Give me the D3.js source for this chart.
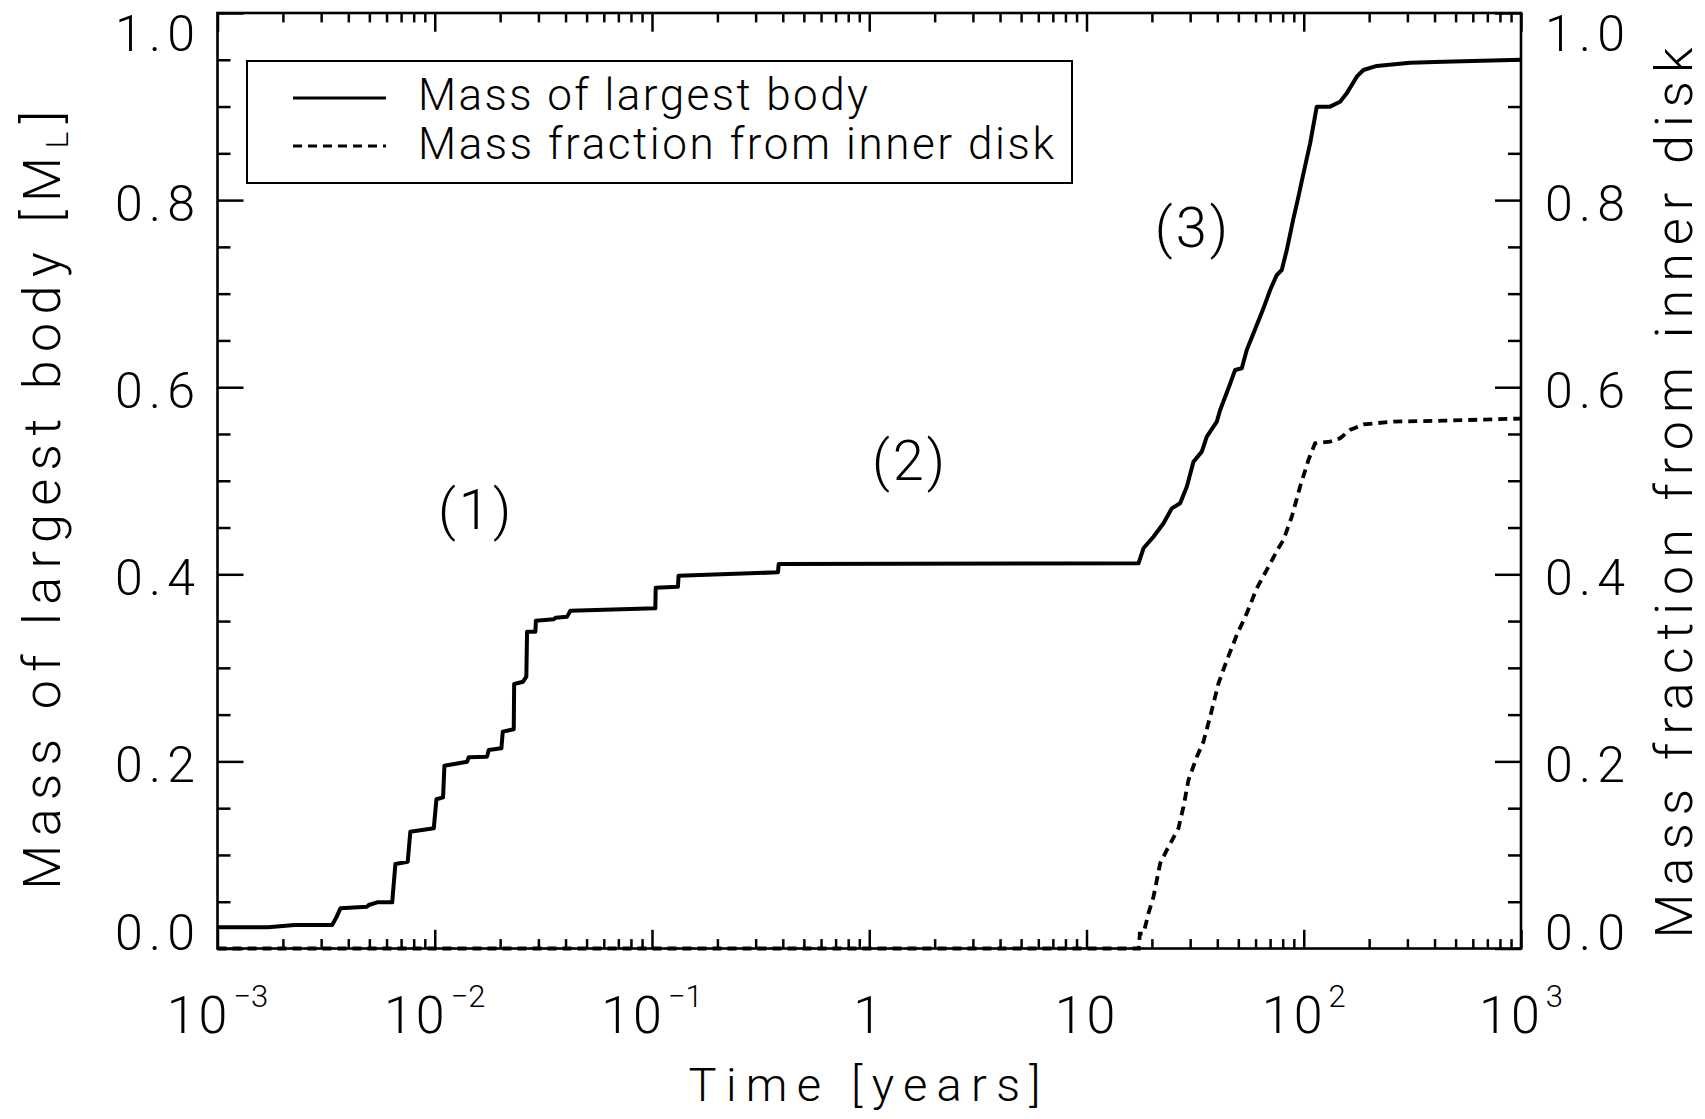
<!DOCTYPE html>
<html><head><meta charset="utf-8">
<script src="https://cdn.jsdelivr.net/npm/d3@7"></script>
<style>
html,body{margin:0;padding:0;background:#fff;}
svg{display:block;background:#fff;}
text{font-family:Roboto,"DejaVu Sans",sans-serif;font-weight:300;fill:#000;}
</style></head><body>
<svg id="chart" width="1705" height="1119"></svg>
<script>
// ---------------- data ----------------
const timeLargest = [0.001,0.00171,0.00226,0.00337,0.00352,0.00368,0.00488,0.00497,0.00543,0.00637,0.00659,0.00751,0.00772,0.00990,0.01018,0.01092,0.01108,0.01409,0.01434,0.01741,0.01772,0.02027,0.02056,0.02310,0.02320,0.02550,0.02640,0.02660,0.02906,0.02920,0.0353,0.0360,0.0406,0.0421,0.1036,0.1040,0.1317,0.1325,0.3800,0.3830,17.35,18.29,20.34,22.62,24.70,26.98,28.95,31.07,33.95,35.80,39.80,41.22,45.03,48.31,51.85,54.67,60.78,65.24,70.03,75.12,79.22,83.55,89.66,94.54,99.68,107.0,114.8,132.2,147.0,157.7,175.4,188.2,216.8,308.7,439.3,1000];
const massLargest = [0.0226,0.0228,0.0251,0.0251,0.033,0.0429,0.0447,0.0465,0.0494,0.0494,0.0903,0.0928,0.1249,0.1285,0.1595,0.1616,0.1954,0.1997,0.2044,0.2051,0.2122,0.2140,0.2318,0.2343,0.2827,0.2852,0.2906,0.3387,0.3387,0.3504,0.3519,0.3536,0.3545,0.3611,0.3636,0.3857,0.3868,0.3985,0.4021,0.4110,0.4117,0.4278,0.4402,0.4545,0.4705,0.4759,0.4937,0.5204,0.5311,0.5471,0.5632,0.5756,0.5988,0.6184,0.6202,0.6398,0.6665,0.6843,0.7039,0.7199,0.7253,0.7467,0.7805,0.8037,0.8286,0.8607,0.8999,0.8999,0.9052,0.9141,0.9319,0.9391,0.9434,0.9469,0.9480,0.9500];
const timeInner = [0.001,17.4,17.6,18.29,19.29,20.34,21.83,23.44,26.50,27.95,29.47,32.21,34.54,37.08,40.51,44.31,49.18,54.67,60.78,68.79,76.45,80.62,88.1,96.2,105.1,112.7,132.2,147.0,163.4,188.2,258.6,439.0,1000];
const fracInner = [0,0,0.016,0.016,0.0376,0.0554,0.0910,0.1053,0.1285,0.1516,0.1801,0.2050,0.2211,0.2478,0.2835,0.3084,0.3351,0.3583,0.3850,0.4081,0.4278,0.4367,0.4616,0.4937,0.5222,0.5400,0.5418,0.5454,0.5543,0.5603,0.5632,0.5642,0.5665];

const xTickValues = [1e-3,1e-2,1e-1,1,10,100,1000];
const xTickBase = ["10","10","10","1","10","10","10"];
const xTickExp = ["\u22123","\u22122","\u22121","","","2","3"];
const yTickValues = [0,0.2,0.4,0.6,0.8,1.0];
const yTickLabels = ["0.0","0.2","0.4","0.6","0.8","1.0"];
const seriesNames = ["Mass of largest body","Mass fraction from inner disk"];
const annotLabels = ["(1)","(2)","(3)"];
const annotTime = [0.0155,1.54,30.9];
const annotMass = [0.448,0.501,0.750];

// ---------------- layout ----------------
const L = 217.5, R = 1521, T = 13, B = 948.5;
const svg = d3.select("#chart");
const x = d3.scaleLog().domain([1e-3,1e3]).range([L,R]);
const y = d3.scaleLinear().domain([0,1]).range([B,T]);

const xMinor = [];
for (let e=-3;e<3;e++) for (let k=2;k<=9;k++) xMinor.push(k*Math.pow(10,e));
const yMinor = d3.range(0,21).map(i=>i*0.05).filter(v=>Math.abs(v*5-Math.round(v*5))>1e-6);

const xMajLen = 18.7, xMinLen = 9.4, yMajLen = 26, yMinLen = 13;
function styleAxis(g){
  g.select(".domain").remove();
  g.selectAll(".tick line").attr("stroke","#000").attr("stroke-width",2.5);
  g.selectAll(".tick text").remove();
}
svg.append("g").attr("transform",`translate(0,${B})`).call(d3.axisBottom(x).tickValues(xTickValues).tickSize(-xMajLen).tickFormat("")).call(styleAxis);
svg.append("g").attr("transform",`translate(0,${B})`).call(d3.axisBottom(x).tickValues(xMinor).tickSize(-xMinLen).tickFormat("")).call(styleAxis);
svg.append("g").attr("transform",`translate(0,${T})`).call(d3.axisTop(x).tickValues(xTickValues).tickSize(-xMajLen).tickFormat("")).call(styleAxis);
svg.append("g").attr("transform",`translate(0,${T})`).call(d3.axisTop(x).tickValues(xMinor).tickSize(-xMinLen).tickFormat("")).call(styleAxis);
svg.append("g").attr("transform",`translate(${L},0)`).call(d3.axisLeft(y).tickValues(yTickValues).tickSize(-yMajLen).tickFormat("")).call(styleAxis);
svg.append("g").attr("transform",`translate(${L},0)`).call(d3.axisLeft(y).tickValues(yMinor).tickSize(-yMinLen).tickFormat("")).call(styleAxis);
svg.append("g").attr("transform",`translate(${R},0)`).call(d3.axisRight(y).tickValues(yTickValues).tickSize(-yMajLen).tickFormat("")).call(styleAxis);
svg.append("g").attr("transform",`translate(${R},0)`).call(d3.axisRight(y).tickValues(yMinor).tickSize(-yMinLen).tickFormat("")).call(styleAxis);

// frame
svg.append("rect").attr("x",L).attr("y",T).attr("width",R-L).attr("height",B-T)
  .attr("fill","none").attr("stroke","#000").attr("stroke-width",2.6);

// curves
const line = d3.line().x(d=>x(d[0])).y(d=>y(d[1]));
svg.append("path").datum(timeInner.map((t,i)=>[t,fracInner[i]]))
  .attr("d",line).attr("fill","none").attr("stroke","#000").attr("stroke-width",3.8)
  .attr("stroke-dasharray","9,6");
svg.append("path").datum(timeLargest.map((t,i)=>[t,massLargest[i]]))
  .attr("d",line).attr("fill","none").attr("stroke","#000").attr("stroke-width",4)
  .attr("stroke-linejoin","round");

function fitWidth(sel, target){
  const n = sel.text().length;
  const w = sel.node().getComputedTextLength();
  if (n>1) sel.attr("letter-spacing", (target-w)/(n-1));
}

// y tick labels (left + right)
const yLab = v => Math.min(Math.max(y(v)+3, T+20), B-16);
yTickValues.forEach((v,i)=>{
  const a = svg.append("text").attr("x",195).attr("y",yLab(v)).attr("dy","0.355em")
    .attr("text-anchor","start").attr("font-size",50).text(yTickLabels[i]);
  fitWidth(a,80);
  a.attr("x",195-80);
  const b = svg.append("text").attr("x",1545).attr("y",yLab(v)).attr("dy","0.355em")
    .attr("text-anchor","start").attr("font-size",50).text(yTickLabels[i]);
  fitWidth(b,80);
});
// x tick labels
xTickValues.forEach((v,i)=>{
  const t = svg.append("text").attr("x",x(v)).attr("y",1033).attr("text-anchor","middle").attr("font-size",52);
  t.append("tspan").text(xTickBase[i]).attr("letter-spacing",3);
  if (xTickExp[i]) t.append("tspan").attr("font-size",31).attr("dx",3).attr("dy",-26).text(xTickExp[i]);
});

// axis titles
const xt = svg.append("text").attr("x",(L+R)/2).attr("y",1101).attr("text-anchor","middle").attr("font-size",47).text("Time [years]");
fitWidth(xt,352);

const lt = svg.append("g").attr("transform","translate(60,496) rotate(-90)")
  .append("text").attr("text-anchor","middle").attr("font-size",52);
lt.append("tspan").text("Mass of largest body [M");
lt.append("tspan").attr("font-size",32).attr("dy",8).text("L");
lt.append("tspan").attr("dy",-8).text("]");
fitWidth(lt,779);

const rt = svg.append("g").attr("transform","translate(1692,489) rotate(-90)")
  .append("text").attr("text-anchor","middle").attr("font-size",52).text("Mass fraction from inner disk");
fitWidth(rt,891);

// annotations
annotLabels.forEach((s,i)=>{
  const a = svg.append("text").attr("x",x(annotTime[i])).attr("y",y(annotMass[i]))
    .attr("text-anchor","middle").attr("font-size",56).text(s);
  a.attr("letter-spacing",3);
});

// legend
const lg = svg.append("g");
lg.append("rect").attr("x",247).attr("y",61).attr("width",825).attr("height",122)
  .attr("fill","#fff").attr("stroke","#000").attr("stroke-width",2);
lg.append("line").attr("x1",293).attr("x2",386).attr("y1",98).attr("y2",98)
  .attr("stroke","#000").attr("stroke-width",3);
lg.append("line").attr("x1",293).attr("x2",386).attr("y1",146).attr("y2",146)
  .attr("stroke","#000").attr("stroke-width",3).attr("stroke-dasharray","9,6");
const l1 = lg.append("text").attr("x",418).attr("y",110).attr("font-size",44).text(seriesNames[0]);
fitWidth(l1,450);
const l2 = lg.append("text").attr("x",418).attr("y",159).attr("font-size",44).text(seriesNames[1]);
fitWidth(l2,636);
</script>
</body></html>
